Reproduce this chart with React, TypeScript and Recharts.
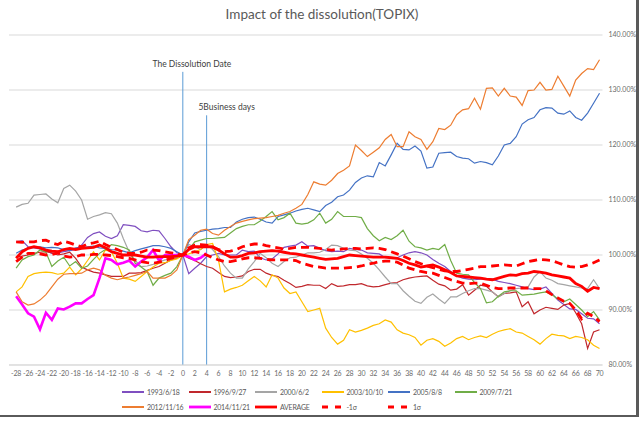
import { LineChart, Line, XAxis, YAxis, CartesianGrid, ReferenceLine } from "recharts"

// trading days relative to the dissolution date
const days = Array.from({ length: 99 }, (_, i) => i - 28)
const xTicks = days.filter((d) => d % 2 === 0)
const yTicks = [80, 90, 100, 110, 120, 130, 140]

const s1993 = [
  102.4, 102.6, 101.5, 101.3, 101.1, 100.8, 100.3, 100.4, 100.6, 100.8,
  101.0, 101.8, 103.2, 103.9, 104.2, 103.4, 103.0, 103.5, 105.5, 105.4,
  105.2, 104.4, 104.2, 104.5, 104.4, 103.0, 101.5, 100.4, 100.0, 96.6,
  97.6, 98.5, 99.7, 100.0, 100.3, 100.0, 100.0, 100.0, 100.9, 100.6,
  100.7, 99.5, 99.1, 99.3, 100.2, 101.4, 101.6, 101.8, 102.4, 101.6,
  101.7, 101.2, 100.8, 100.6, 100.7, 100.6, 101.2, 101.0, 100.9, 100.4,
  100.3, 100.2, 99.5, 99.5, 99.5, 100.0, 100.4, 100.6, 100.4, 100.0,
  99.2, 98.5, 97.9, 97.0, 96.2, 95.8, 95.6, 95.5, 95.6, 95.7,
  95.6, 95.2, 95.0, 94.8, 94.5, 94.2, 93.9, 93.7, 93.8, 94.2,
  93.0, 91.8, 91.0, 90.2, 90.1, 89.3, 88.5, 88.4, 87.5,
]

const s1996 = [
  99.7, 99.8, 100.0, 100.3, 100.5, 100.6, 100.4, 100.0, 100.2, 100.5,
  99.4, 97.8, 97.3, 96.9, 96.7, 96.4, 96.1, 96.1, 96.1, 96.7,
  96.7, 96.8, 97.2, 97.6, 97.9, 98.5, 99.1, 99.4, 100.0, 99.4,
  99.0, 98.4, 97.9, 97.6, 96.8, 96.1, 95.9, 96.0, 96.2, 97.0,
  97.4, 97.4, 96.7, 96.3, 96.1, 95.4, 94.8, 94.1, 94.3, 94.6,
  94.5, 94.5, 93.9, 94.8, 94.3, 94.4, 94.6, 94.6, 94.8, 94.4,
  94.2, 94.3, 94.6, 94.9, 95.0, 95.5, 95.8, 96.0, 96.1, 96.2,
  95.4, 94.7, 94.4, 93.6, 93.8, 94.6, 92.7, 93.6, 94.5, 94.3,
  93.3, 92.4, 93.0, 93.1, 93.3, 90.6, 91.5, 89.3, 90.0, 90.5,
  90.3, 90.1, 90.9, 91.2, 89.5, 87.5, 83.0, 86.0, 86.4,
]

const s2000 = [
  108.7, 109.2, 109.4, 110.9, 111.0, 111.1, 110.2, 109.5, 112.1, 112.7,
  111.6, 110.0, 106.5, 107.0, 107.3, 107.7, 107.5, 105.8, 103.0, 100.5,
  99.0, 97.9, 98.0, 98.3, 98.7, 99.1, 99.2, 99.6, 100.0, 101.9,
  101.5, 101.0, 101.9, 101.0, 99.7, 98.0, 96.7, 95.8, 95.8, 97.5,
  98.8, 100.3, 99.5, 98.5, 97.9, 98.8, 99.5, 99.6, 100.0, 100.4,
  100.4, 100.5, 101.0, 101.8, 101.7, 101.2, 100.9, 100.8, 100.2, 99.4,
  98.5, 97.3, 96.0, 94.8, 94.8, 93.5, 92.5, 91.6, 91.2, 92.3,
  92.9, 92.0, 91.2, 92.4, 92.4, 93.0, 93.5, 93.9, 93.9, 93.6,
  93.3, 92.4, 93.0, 93.5, 93.9, 94.0, 94.2, 96.0, 97.0, 95.8,
  95.4, 94.8, 94.6, 94.4, 94.2, 94.0, 93.9, 95.5, 93.9,
]

const s2003 = [
  93.3, 94.2, 96.1, 96.6, 96.8, 96.9, 96.8, 96.5, 96.7, 97.8,
  96.4, 97.5, 99.0, 100.6, 99.1, 100.9, 100.6, 98.5, 95.8, 95.6,
  95.2, 96.1, 97.0, 97.8, 98.5, 98.6, 99.0, 99.3, 100.0, 100.2,
  100.6, 101.0, 101.9, 102.1, 99.0, 93.3, 93.8, 94.1, 94.5, 95.3,
  96.1, 95.3, 94.2, 96.4, 95.8, 94.0, 93.0, 93.3, 91.5, 89.7,
  90.0, 90.3, 86.7, 85.0, 83.8, 84.5, 86.4, 86.0, 86.3, 86.7,
  87.2, 87.5, 88.2, 87.8, 86.4, 85.8, 85.5, 85.0, 83.6, 84.5,
  84.8, 84.3, 83.4, 84.0, 84.8, 85.2, 84.6, 85.0, 85.3, 85.0,
  85.6, 86.1, 86.4, 86.6, 86.0, 85.8, 85.2, 84.6, 83.8, 84.8,
  85.6, 85.4, 85.3, 84.8, 85.2, 85.0, 84.6, 83.6, 83.0,
]

const s2005 = [
  100.3, 100.9, 101.2, 101.4, 101.5, 101.3, 101.4, 101.3, 101.0, 100.8,
  101.3, 101.4, 101.5, 101.6, 101.3, 101.2, 101.0, 100.9, 100.7, 100.4,
  100.8, 101.1, 101.4, 101.7, 101.7, 101.5, 101.2, 100.6, 100.0, 102.4,
  104.0, 104.3, 104.5, 104.7, 104.8, 105.0, 105.0, 106.0, 106.5, 106.8,
  106.9, 106.5, 106.0, 105.8, 107.0, 107.3, 107.6, 108.0, 108.3, 108.5,
  108.2, 107.9, 109.0, 109.6, 110.6, 110.9, 111.8, 113.2, 114.0, 114.4,
  114.2, 116.8, 116.2, 118.2, 120.3, 119.2, 119.1, 119.8, 118.9, 115.8,
  116.0, 118.5, 118.6, 118.7, 117.9, 117.6, 117.5, 116.7, 117.0, 116.8,
  116.4, 118.0, 120.0, 120.3, 121.5, 123.8, 124.6, 125.0, 126.4, 126.8,
  126.7, 125.8, 125.6, 126.2, 125.0, 124.5, 125.8, 127.6, 129.4,
]

const s2009 = [
  97.6, 99.1, 99.7, 100.0, 100.9, 100.5, 97.9, 98.9, 99.6, 98.0,
  98.8, 97.6, 98.0, 99.2, 100.3, 101.0, 101.9, 101.7, 101.4, 100.9,
  98.5, 97.8, 97.0, 94.5, 95.8, 96.3, 96.7, 97.9, 100.0, 101.0,
  102.4, 102.7, 103.0, 103.0, 103.1, 103.2, 104.0, 104.8, 105.2, 105.5,
  105.5, 106.2, 107.0, 107.9, 106.4, 106.8, 107.6, 105.8, 105.6, 105.8,
  106.4, 107.6, 105.8, 106.5, 107.9, 107.0, 107.0, 107.0, 106.8, 104.8,
  103.5, 102.6, 103.2, 102.8, 103.5, 104.5, 102.5, 101.5, 101.3, 100.9,
  101.2, 101.0, 101.9, 99.0, 96.7, 96.5, 96.4, 95.0, 93.9, 91.3,
  91.5, 92.5, 93.3, 93.5, 93.5, 92.7, 92.8, 92.9, 93.1, 93.3,
  92.8, 92.0, 91.5, 92.0, 91.0, 90.0, 88.8, 89.7, 88.2,
]

const s2012 = [
  93.3, 91.5, 90.9, 91.1, 91.8, 92.8, 94.2, 95.6, 96.5, 96.6,
  96.6, 96.7, 97.3, 97.6, 97.3, 96.3, 95.8, 95.5, 95.8, 96.0,
  96.3, 96.6, 97.0, 95.8, 95.8, 95.8, 96.3, 97.3, 100.0, 102.8,
  103.6, 104.5, 104.7, 103.9, 103.6, 104.5, 105.2, 105.8, 106.1, 106.4,
  106.6, 106.7, 106.8, 107.0, 107.2, 107.6, 107.9, 108.5, 109.2, 111.0,
  113.3, 112.9, 112.7, 113.6, 114.8, 115.4, 116.2, 120.0, 119.0, 117.9,
  118.7, 119.5, 121.0, 121.9, 119.7, 119.7, 122.4, 121.5, 121.0, 119.2,
  120.6, 123.0, 122.8, 123.6, 125.5, 126.4, 126.6, 128.5, 126.5, 130.3,
  130.4, 128.9, 130.3, 128.9, 128.7, 127.2, 129.9, 130.0, 131.4, 130.0,
  130.1, 132.5, 130.7, 128.9, 131.8, 133.0, 133.9, 133.7, 135.5,
]

// only available up to day 4
const s2014 = [
  92.5, 91.0, 89.4, 88.8, 86.5, 89.5, 88.2, 90.3, 90.1, 90.6,
  91.2, 91.2, 92.0, 92.7, 95.8, 99.4, 99.1, 98.3, 98.6, 99.0,
  97.9, 98.8, 99.6, 100.9, 99.0, 100.0, 100.0, 100.0, 100.0, 99.7,
  99.1, 99.5, 100.3,
]

const average = [
  99.4, 100.6, 101.2, 101.5, 101.3, 100.9, 100.7, 100.6, 101.0, 101.2,
  101.0, 101.2, 101.3, 101.4, 101.8, 101.3, 100.6, 100.3, 100.0, 100.0,
  100.0, 99.8, 99.6, 99.6, 99.7, 99.7, 99.7, 99.8, 100.0, 101.0,
  101.5, 101.5, 101.5, 101.5, 100.9, 100.2, 99.6, 99.6, 99.9, 100.3,
  100.4, 100.6, 100.7, 100.8, 100.7, 100.5, 100.3, 100.2, 100.0, 99.8,
  99.6, 99.4, 99.2, 99.3, 99.4, 99.7, 100.0, 99.9, 99.8, 99.7,
  99.6, 99.6, 99.6, 99.5, 99.4, 99.0, 98.5, 98.2, 97.8, 98.0,
  98.2, 97.8, 97.3, 96.8, 96.2, 96.1, 96.0, 95.9, 95.8, 95.6,
  95.5, 95.8, 96.1, 96.4, 96.3, 96.6, 96.7, 97.0, 96.9, 96.7,
  96.4, 96.2, 96.0, 95.8, 94.8, 94.3, 93.4, 94.1, 93.9,
]

const minusSigma = [
  98.8, 99.6, 100.3, 100.3, 100.2, 100.0, 100.1, 100.4, 99.8, 99.6,
  99.7, 100.0, 100.0, 100.1, 100.1, 100.0, 99.9, 99.7, 99.5, 99.4,
  99.1, 98.8, 98.6, 98.5, 98.7, 99.0, 99.4, 99.7, 100.0, 100.4,
  100.6, 100.4, 100.0, 99.5, 99.1, 98.8, 98.8, 99.0, 99.3, 99.5,
  99.5, 99.4, 99.2, 99.1, 99.1, 99.1, 99.1, 99.0, 98.5, 98.2,
  97.9, 97.8, 97.6, 97.6, 97.6, 97.6, 97.7, 97.8, 98.0, 98.3,
  98.5, 98.8, 98.9, 98.9, 98.7, 98.2, 97.6, 97.3, 97.0, 96.8,
  96.7, 96.3, 95.9, 95.5, 95.2, 94.9, 94.8, 94.9, 94.9, 94.5,
  94.1, 93.9, 93.9, 94.0, 94.0, 94.0, 94.0, 93.9, 93.9, 93.5,
  92.8, 92.2, 91.6, 91.2, 90.0, 88.4, 89.4, 88.8, 87.9,
]

const plusSigma = [
  102.4, 102.3, 102.4, 102.4, 102.6, 102.7, 102.2, 101.9, 102.5, 102.2,
  101.8, 101.5, 102.0, 102.2, 102.5, 101.9, 101.4, 101.0, 100.5, 100.3,
  100.3, 100.5, 100.9, 100.9, 100.8, 100.6, 100.4, 100.2, 100.0, 101.3,
  101.8, 101.9, 101.8, 101.4, 101.0, 100.6, 100.7, 101.0, 101.5, 101.8,
  102.0, 102.0, 101.7, 101.5, 101.3, 101.1, 101.2, 101.4, 101.4, 101.4,
  101.3, 101.2, 101.0, 100.9, 101.0, 101.1, 101.2, 101.2, 101.1, 101.2,
  101.3, 101.2, 101.0, 100.6, 100.2, 99.8, 99.3, 98.8, 98.4, 98.0,
  97.7, 97.4, 97.1, 97.0, 97.0, 97.2, 97.4, 97.6, 97.9, 97.9,
  98.0, 98.1, 98.2, 98.1, 98.0, 98.4, 98.8, 99.0, 99.2, 99.1,
  99.0, 98.6, 98.2, 97.9, 97.8, 97.9, 98.2, 98.6, 99.1,
]

interface Series {
  key: string
  name: string
  color: string
  width: number
  dash?: string
  values: number[]
}

const series: Series[] = [
  { key: "s1993", name: "1993/6/18", color: "#7f4fc0", width: 1.2, values: s1993 },
  { key: "s1996", name: "1996/9/27", color: "#c0282d", width: 1.2, values: s1996 },
  { key: "s2000", name: "2000/6/2", color: "#a5a5a5", width: 1.2, values: s2000 },
  { key: "s2003", name: "2003/10/10", color: "#ffc000", width: 1.2, values: s2003 },
  { key: "s2005", name: "2005/8/8", color: "#4472c4", width: 1.2, values: s2005 },
  { key: "s2009", name: "2009/7/21", color: "#70ad47", width: 1.2, values: s2009 },
  { key: "s2012", name: "2012/11/16", color: "#ed7d31", width: 1.2, values: s2012 },
  { key: "s2014", name: "2014/11/21", color: "#ff00ff", width: 2.6, values: s2014 },
  { key: "avg", name: "AVERAGE", color: "#ff0000", width: 2.8, values: average },
  { key: "m1s", name: "-1σ", color: "#ff0000", width: 2.8, dash: "8 5", values: minusSigma },
  { key: "p1s", name: "1σ", color: "#ff0000", width: 2.8, dash: "8 5", values: plusSigma },
]

const data = days.map((d, i) => {
  const row: Record<string, number | null> = { day: d }
  series.forEach((s) => {
    row[s.key] = s.values[i] ?? null
  })
  return row
})

const FONT = "Lato, 'Open Sans', sans-serif"

function markLabel(text: string, dx: number) {
  return (props: any) => {
    const vb = props.viewBox ?? {}
    const x = (vb.x ?? props.x ?? 0) + dx
    const y = (vb.y ?? props.y ?? 0) - 5
    return (
      <text x={x} y={y} textAnchor="middle" fill="#404040" fontSize={8.5} fontFamily={FONT}>
        {text}
      </text>
    )
  }
}

// Excel-style legend grid, equal column widths
const legendCols = [122, 188.5, 255, 321.5, 388, 454.5]
const legendRows = [392, 407]

function ChartLegend() {
  return (
    <>
      {series.map((s, i) => {
        const row = i < 6 ? 0 : 1
        const col = i < 6 ? i : i - 6
        return (
          <div
            key={s.key}
            style={{
              position: "absolute",
              left: legendCols[col],
              top: legendRows[row] - 6,
              height: 12,
              display: "flex",
              alignItems: "center",
              fontFamily: FONT,
              fontSize: 7,
              letterSpacing: -0.25,
              color: "#595959",
              whiteSpace: "nowrap",
            }}
          >
            <svg width={22} height={6} style={{ marginRight: 3 }}>
              <line
                x1={0}
                y1={3}
                x2={22}
                y2={3}
                stroke={s.color}
                strokeWidth={s.width >= 2 ? 2.8 : 2}
                strokeDasharray={s.dash ? "6 7" : undefined}
              />
            </svg>
            {s.name}
          </div>
        )
      })}
    </>
  )
}

export default function App() {
  return (
    <div style={{ position: "absolute", left: 0, top: 0, width: 644, height: 421, background: "#fff", overflow: "hidden" }}>
      <div
        style={{
          position: "absolute",
          left: 0,
          top: 0,
          width: 639,
          height: 417,
          boxSizing: "border-box",
          borderRight: "3px solid #5a5a5a",
          borderBottom: "2px solid #5a5a5a",
        }}
      />
      <div
        style={{
          position: "absolute",
          left: 0,
          top: 6,
          width: 644,
          textAlign: "center",
          fontFamily: FONT,
          fontSize: 13.5,
          color: "#595959",
        }}
      >
        Impact of the dissolution(TOPIX)
      </div>
      <div style={{ position: "absolute", left: 0, top: 0 }}>
        <LineChart
          width={644}
          height={421}
          data={data}
          margin={{ top: 35, right: 3.5, bottom: 36, left: 9 }}
          style={{ fontFamily: FONT }}
        >
          <CartesianGrid horizontal vertical={false} stroke="#d9d9d9" />
          <XAxis
            dataKey="day"
            type="number"
            domain={[-29.2, 70.5]}
            ticks={xTicks}
            interval={0}
            height={20}
            tickLine={false}
            tickSize={4}
            tickMargin={2}
            axisLine={{ stroke: "#d9d9d9" }}
            tick={{ fill: "#6b6b6b", fontSize: 7, letterSpacing: -0.2 }}
            allowDataOverflow
          />
          <YAxis
            orientation="right"
            domain={[80, 140]}
            ticks={yTicks}
            width={38}
            tickLine={false}
            axisLine={false}
            tickSize={4}
            tickMargin={2}
            tick={{ fill: "#6b6b6b", fontSize: 7 }}
            tickFormatter={(v: number) => `${v.toFixed(2)}%`}
          />
          <ReferenceLine
            segment={[{ x: 0, y: 80 }, { x: 0, y: 133.3 }]}
            stroke="#5b9bd5"
            strokeWidth={1}
            label={markLabel("The Dissolution Date", 9)}
          />
          <ReferenceLine
            segment={[{ x: 4, y: 80 }, { x: 4, y: 125.4 }]}
            stroke="#5b9bd5"
            strokeWidth={1}
            label={markLabel("5Business days", 20)}
          />
          {series.map((s) => (
            <Line
              key={s.key}
              type="linear"
              dataKey={s.key}
              name={s.name}
              stroke={s.color}
              strokeWidth={s.width}
              strokeDasharray={s.dash}
              dot={false}
              activeDot={false}
              connectNulls={false}
              isAnimationActive={false}
            />
          ))}
        </LineChart>
      </div>
      <ChartLegend />
    </div>
  )
}
